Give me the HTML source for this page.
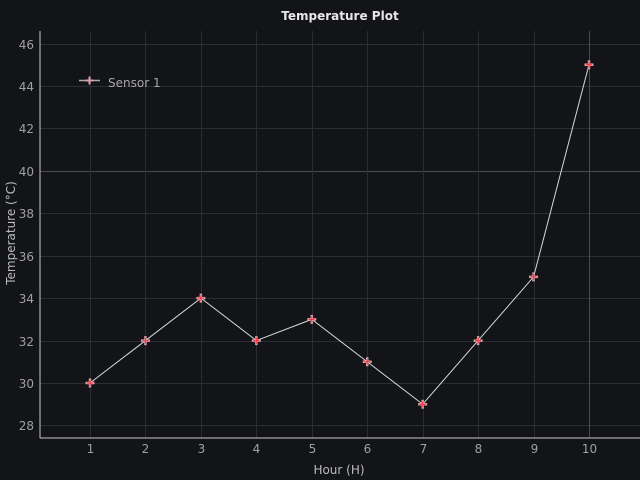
<!DOCTYPE html>
<html><head><meta charset="utf-8"><style>
html,body{margin:0;padding:0;background:#131418;}
svg{display:block;font-family:"DejaVu Sans","Liberation Sans",sans-serif;}
</style></head><body>
<svg id="c" width="640" height="480" viewBox="0 0 640 480">
<rect width="640" height="480" fill="#131418"/>
<text x="340" y="20" text-anchor="middle" fill="#e8e8e8" font-size="12" font-weight="bold">Temperature Plot</text>
<text x="339" y="474" text-anchor="middle" fill="#bbbbbb" font-size="12">Hour (H)</text>
<text transform="translate(15,233) rotate(-90)" text-anchor="middle" fill="#bbbbbb" font-size="12">Temperature (°C)</text>
<g id="grid"></g><g id="series"></g>
<line x1="40" y1="438" x2="640" y2="438" stroke="#c8c8c8" stroke-width="1"/>
<line x1="40" y1="31" x2="40" y2="438" stroke="#c8c8c8" stroke-width="1"/>
<g>
<line x1="79" y1="80.5" x2="100" y2="80.5" stroke="#aaaaaa" stroke-width="1.5"/>
<path d="M85.5 80.5h8M89.5 76.5v8" stroke="#d9a0a8" stroke-width="2"/>
<text x="108" y="87" fill="#a8a8a8" font-size="12">Sensor 1</text>
</g>
</svg>
<script>
const hours=[1,2,3,4,5,6,7,8,9,10];
const temps=[30,32,34,32,33,31,29,32,35,45];
const yTicks=[28,30,32,34,36,38,40,42,44,46];
const xTicks=[1,2,3,4,5,6,7,8,9,10];
const X=v=>90+(v-1)*(589-90)/9;
const Y=v=>383-(v-30)*(383-86)/14;
const ns="http://www.w3.org/2000/svg";
const grid=document.getElementById('grid'),ser=document.getElementById('series');
function mk(tag,attrs,parent){const e=document.createElementNS(ns,tag);for(const k in attrs)e.setAttribute(k,attrs[k]);parent.appendChild(e);return e;}
yTicks.forEach(t=>{const y=Math.round(Y(t))+0.5;
 const l=mk('line',{x1:40,x2:640,y1:y,y2:y,stroke:t===40?'#4a4b50':'#2c2d32','stroke-width':1},grid);
 
 
 const tx=mk('text',{x:34,y:y+4.5,'text-anchor':'end',fill:'#a0a0a0','font-size':12},grid);tx.textContent=t;
 
 
});
xTicks.forEach(t=>{const x=Math.round(X(t))+0.5;
 const l=mk('line',{x1:x,x2:x,y1:31,y2:438,stroke:t===10?'#4a4b50':'#2c2d32','stroke-width':1},grid);
 
 
 const tx=mk('text',{x:x,y:453,'text-anchor':'middle',fill:'#a0a0a0','font-size':12},grid);tx.textContent=t;
 
 
});
const pl=mk('polyline',{points:hours.map((h,i)=>X(h)+','+Y(temps[i])).join(' '),fill:'none',stroke:'#d8d8d8','stroke-width':1},ser);


hours.forEach((h,i)=>{const x=X(h),y=Y(temps[i]);
 const m=mk('path',{d:`M${x-4.5} ${y}h9M${x} ${y-4.5}v9`,stroke:'#d9a0a8','stroke-width':2.5},ser);
 
 
 const c=mk('path',{d:`M${x-3} ${y}h6M${x} ${y-3}v6`,stroke:'#ff2a3a','stroke-width':1},ser);
 
 
});
</script>
</body></html>
